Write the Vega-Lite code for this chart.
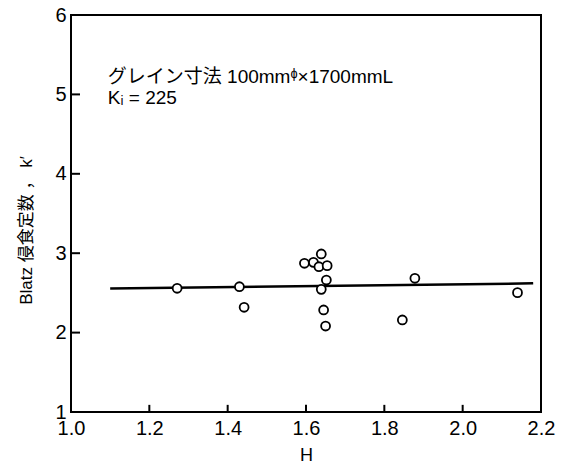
{
  "$schema": "https://vega.github.io/schema/vega-lite/v6.json",
  "width": 470,
  "height": 397,
  "autosize": {"type": "none"},
  "padding": {"left": 71, "top": 15, "right": 23, "bottom": 57},
  "background": "white",
  "config": {
    "font": "Liberation Sans, Noto Sans CJK JP",
    "view": {"stroke": "black", "strokeWidth": 2},
    "axis": {"grid": false, "domain": false, "ticks": false, "labelColor": "black", "titleColor": "black", "labelFont": "Liberation Sans", "titleFont": "Liberation Sans, Noto Sans CJK JP", "titleFontWeight": "normal"}
  },
  "datasets": {
    "pts": [
      {"H": 1.271, "k": 2.558},
      {"H": 1.430, "k": 2.578},
      {"H": 1.442, "k": 2.319},
      {"H": 1.596, "k": 2.873},
      {"H": 1.619, "k": 2.885},
      {"H": 1.639, "k": 2.99},
      {"H": 1.633, "k": 2.83},
      {"H": 1.654, "k": 2.843},
      {"H": 1.652, "k": 2.662},
      {"H": 1.639, "k": 2.545},
      {"H": 1.645, "k": 2.285},
      {"H": 1.650, "k": 2.083},
      {"H": 1.878, "k": 2.684},
      {"H": 1.846, "k": 2.159},
      {"H": 2.140, "k": 2.503}
    ],
    "fit": [
      {"H": 1.10, "k": 2.555},
      {"H": 2.18, "k": 2.62}
    ],
    "xticks": [{"H": 1.2}, {"H": 1.4}, {"H": 1.6}, {"H": 1.8}, {"H": 2.0}],
    "yticks": [{"k": 2}, {"k": 3}, {"k": 4}, {"k": 5}],
    "notes": [
      {"H": 1.094, "k": 5.225, "t": "グレイン寸法 100mmᶲ×1700mmL"},
      {"H": 1.094, "k": 4.96, "t": "Kᵢ = 225"}
    ]
  },
  "layer": [
    {
      "data": {"name": "fit"},
      "mark": {"type": "line", "color": "black", "strokeWidth": 2.5},
      "encoding": {
        "x": {
          "field": "H", "type": "quantitative",
          "scale": {"domain": [1.0, 2.2], "nice": false, "zero": false},
          "axis": {
            "title": "H", "titleFontSize": 18, "titlePadding": 8,
            "values": [1.0, 1.2, 1.4, 1.6, 1.8, 2.0, 2.2],
            "format": ".1f", "labelFontSize": 20, "labelPadding": 6, "labelFlush": false
          }
        },
        "y": {
          "field": "k", "type": "quantitative",
          "scale": {"domain": [1, 6], "nice": false, "zero": false},
          "axis": {
            "title": "Blatz 侵食定数 ，  k′", "titleFontSize": 17, "titleX": -36, "titleY": 215,
            "values": [1, 2, 3, 4, 5, 6],
            "format": "d", "labelFontSize": 20, "labelPadding": 5, "labelFlush": false
          }
        }
      }
    },
    {
      "data": {"name": "xticks"},
      "mark": {"type": "rule", "color": "black", "strokeWidth": 2},
      "encoding": {
        "x": {"field": "H", "type": "quantitative"},
        "y": {"datum": 1},
        "y2": {"datum": 1.09}
      }
    },
    {
      "data": {"name": "yticks"},
      "mark": {"type": "rule", "color": "black", "strokeWidth": 2},
      "encoding": {
        "x": {"datum": 1.0},
        "x2": {"datum": 1.023},
        "y": {"field": "k", "type": "quantitative"}
      }
    },
    {
      "data": {"name": "pts"},
      "mark": {"type": "point", "shape": "circle", "filled": false, "fill": "white", "fillOpacity": 1, "stroke": "black", "strokeWidth": 1.8, "size": 80, "opacity": 1},
      "encoding": {
        "x": {"field": "H", "type": "quantitative"},
        "y": {"field": "k", "type": "quantitative"}
      }
    },
    {
      "data": {"name": "notes"},
      "mark": {"type": "text", "align": "left", "baseline": "middle", "fontSize": 19, "color": "black", "font": "Liberation Sans, Noto Sans CJK JP"},
      "encoding": {
        "x": {"field": "H", "type": "quantitative"},
        "y": {"field": "k", "type": "quantitative"},
        "text": {"field": "t"}
      }
    }
  ]
}
